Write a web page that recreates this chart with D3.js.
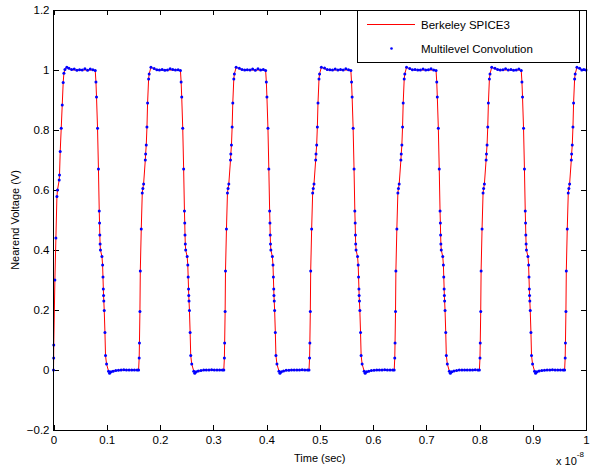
<!DOCTYPE html>
<html>
<head>
<meta charset="utf-8">
<script src="https://cdn.jsdelivr.net/npm/d3@7"></script>
<style>
  body { margin: 0; background: #fff; }
  svg { font-family: "Liberation Sans", Arial, sans-serif; }
</style>
</head>
<body>
<div id="chart"></div>
<script>
// time axis in units of 1e-8 s, one row group per pulse (rise / top / fall / bottom)
const timeVals = [
  0, 0.0003, 0.0005, 0.0026, 0.0045, 0.0064, 0.0075, 0.0107, 0.0113, 0.0126, 0.0145, 0.0164, 0.0182, 0.0195, 0.0215, 0.025,
  0.029, 0.034, 0.039, 0.044, 0.049, 0.054, 0.059, 0.064, 0.069, 0.074, 0.0784,
  0.0797, 0.0808, 0.0827, 0.0844, 0.0859, 0.0865, 0.087, 0.0875, 0.0882, 0.091, 0.0922, 0.0929, 0.0936, 0.094, 0.0945, 0.0953, 0.0966, 0.0977, 0.0996, 0.1034, 0.1053, 0.108,
  0.112, 0.117, 0.122, 0.127, 0.132, 0.137, 0.142, 0.147, 0.152, 0.157,
  // pulse 2
  0.1598, 0.1609, 0.1614, 0.1623, 0.163, 0.1648, 0.1667, 0.1678, 0.1692, 0.1724, 0.173, 0.1742, 0.1755, 0.1767, 0.1786, 0.1797, 0.183,
  0.189, 0.194, 0.199, 0.204, 0.209, 0.214, 0.219, 0.224, 0.229, 0.234, 0.2384,
  0.2397, 0.2408, 0.2427, 0.2444, 0.2459, 0.2465, 0.247, 0.2475, 0.2482, 0.251, 0.2522, 0.2529, 0.2536, 0.254, 0.2545, 0.2553, 0.2566, 0.2577, 0.2596, 0.2634, 0.2653, 0.268,
  0.272, 0.277, 0.282, 0.287, 0.292, 0.297, 0.302, 0.307, 0.312, 0.317,
  // pulse 3
  0.3198, 0.3209, 0.3214, 0.3223, 0.323, 0.3248, 0.3267, 0.3278, 0.3292, 0.3324, 0.333, 0.3342, 0.3355, 0.3367, 0.3386, 0.3397, 0.343,
  0.349, 0.354, 0.359, 0.364, 0.369, 0.374, 0.379, 0.384, 0.389, 0.394, 0.3984,
  0.3997, 0.4008, 0.4027, 0.4044, 0.4059, 0.4065, 0.407, 0.4075, 0.4082, 0.411, 0.4122, 0.4129, 0.4136, 0.414, 0.4145, 0.4153, 0.4166, 0.4177, 0.4196, 0.4234, 0.4253, 0.428,
  0.432, 0.437, 0.442, 0.447, 0.452, 0.457, 0.462, 0.467, 0.472, 0.477,
  // pulse 4
  0.4798, 0.4809, 0.4814, 0.4823, 0.483, 0.4848, 0.4867, 0.4878, 0.4892, 0.4924, 0.493, 0.4942, 0.4955, 0.4967, 0.4986, 0.4997, 0.503,
  0.509, 0.514, 0.519, 0.524, 0.529, 0.534, 0.539, 0.544, 0.549, 0.554, 0.5584,
  0.5597, 0.5608, 0.5627, 0.5644, 0.5659, 0.5665, 0.567, 0.5675, 0.5682, 0.571, 0.5722, 0.5729, 0.5736, 0.574, 0.5745, 0.5753, 0.5766, 0.5777, 0.5796, 0.5834, 0.5853, 0.588,
  0.592, 0.597, 0.602, 0.607, 0.612, 0.617, 0.622, 0.627, 0.632, 0.637,
  // pulse 5
  0.6398, 0.6409, 0.6414, 0.6423, 0.643, 0.6448, 0.6467, 0.6478, 0.6492, 0.6524, 0.653, 0.6542, 0.6555, 0.6567, 0.6586, 0.6597, 0.663,
  0.669, 0.674, 0.679, 0.684, 0.689, 0.694, 0.699, 0.704, 0.709, 0.714, 0.7184,
  0.7197, 0.7208, 0.7227, 0.7244, 0.7259, 0.7265, 0.727, 0.7275, 0.7282, 0.731, 0.7322, 0.7329, 0.7336, 0.734, 0.7345, 0.7353, 0.7366, 0.7377, 0.7396, 0.7434, 0.7453, 0.748,
  0.752, 0.757, 0.762, 0.767, 0.772, 0.777, 0.782, 0.787, 0.792, 0.797,
  // pulse 6
  0.7998, 0.8009, 0.8014, 0.8023, 0.803, 0.8048, 0.8067, 0.8078, 0.8092, 0.8124, 0.813, 0.8142, 0.8155, 0.8167, 0.8186, 0.8197, 0.823,
  0.829, 0.834, 0.839, 0.844, 0.849, 0.854, 0.859, 0.864, 0.869, 0.874, 0.8784,
  0.8797, 0.8808, 0.8827, 0.8844, 0.8859, 0.8865, 0.887, 0.8875, 0.8882, 0.891, 0.8922, 0.8929, 0.8936, 0.894, 0.8945, 0.8953, 0.8966, 0.8977, 0.8996, 0.9034, 0.9053, 0.908,
  0.912, 0.917, 0.922, 0.927, 0.932, 0.937, 0.942, 0.947, 0.952, 0.957,
  // pulse 7
  0.9598, 0.9609, 0.9614, 0.9623, 0.963, 0.9648, 0.9667, 0.9678, 0.9692, 0.9724, 0.973, 0.9742, 0.9755, 0.9767, 0.9786, 0.9797, 0.983,
  0.988, 0.992, 0.996, 1.0
];

// Berkeley SPICE3 nearend voltage (V)
const spiceVals = [
  0, 0.04, 0.083, 0.30, 0.44, 0.578, 0.60, 0.633, 0.65, 0.728, 0.806, 0.883, 0.958, 0.989, 1.002, 1.009,
  1.004, 1.001, 1, 1, 1, 1, 1, 1, 1, 1, 0.998,
  0.96, 0.91, 0.806, 0.67, 0.53, 0.49, 0.45, 0.42, 0.40, 0.378, 0.35, 0.31, 0.27, 0.248, 0.23, 0.198, 0.125, 0.048, 0.02, -0.004, -0.011, -0.006,
  -0.003, -0.002, -0.001, 0, 0, 0, 0, 0, 0, 0,
  0, 0.04, 0.09, 0.195, 0.33, 0.47, 0.59, 0.605, 0.62, 0.70, 0.72, 0.75, 0.81, 0.89, 0.97, 0.987, 1.009,
  1.004, 1.001, 1, 1, 1, 1, 1, 1, 1, 1, 0.998,
  0.96, 0.91, 0.806, 0.67, 0.53, 0.49, 0.45, 0.42, 0.40, 0.378, 0.35, 0.31, 0.27, 0.248, 0.23, 0.198, 0.125, 0.048, 0.02, -0.004, -0.011, -0.006,
  -0.003, -0.002, -0.001, 0, 0, 0, 0, 0, 0, 0,
  0, 0.04, 0.09, 0.195, 0.33, 0.47, 0.59, 0.605, 0.62, 0.70, 0.72, 0.75, 0.81, 0.89, 0.97, 0.987, 1.009,
  1.004, 1.001, 1, 1, 1, 1, 1, 1, 1, 1, 0.998,
  0.96, 0.91, 0.806, 0.67, 0.53, 0.49, 0.45, 0.42, 0.40, 0.378, 0.35, 0.31, 0.27, 0.248, 0.23, 0.198, 0.125, 0.048, 0.02, -0.004, -0.011, -0.006,
  -0.003, -0.002, -0.001, 0, 0, 0, 0, 0, 0, 0,
  0, 0.04, 0.09, 0.195, 0.33, 0.47, 0.59, 0.605, 0.62, 0.70, 0.72, 0.75, 0.81, 0.89, 0.97, 0.987, 1.009,
  1.004, 1.001, 1, 1, 1, 1, 1, 1, 1, 1, 0.998,
  0.96, 0.91, 0.806, 0.67, 0.53, 0.49, 0.45, 0.42, 0.40, 0.378, 0.35, 0.31, 0.27, 0.248, 0.23, 0.198, 0.125, 0.048, 0.02, -0.004, -0.011, -0.006,
  -0.003, -0.002, -0.001, 0, 0, 0, 0, 0, 0, 0,
  0, 0.04, 0.09, 0.195, 0.33, 0.47, 0.59, 0.605, 0.62, 0.70, 0.72, 0.75, 0.81, 0.89, 0.97, 0.987, 1.009,
  1.004, 1.001, 1, 1, 1, 1, 1, 1, 1, 1, 0.998,
  0.96, 0.91, 0.806, 0.67, 0.53, 0.49, 0.45, 0.42, 0.40, 0.378, 0.35, 0.31, 0.27, 0.248, 0.23, 0.198, 0.125, 0.048, 0.02, -0.004, -0.011, -0.006,
  -0.003, -0.002, -0.001, 0, 0, 0, 0, 0, 0, 0,
  0, 0.04, 0.09, 0.195, 0.33, 0.47, 0.59, 0.605, 0.62, 0.70, 0.72, 0.75, 0.81, 0.89, 0.97, 0.987, 1.009,
  1.004, 1.001, 1, 1, 1, 1, 1, 1, 1, 1, 0.998,
  0.96, 0.91, 0.806, 0.67, 0.53, 0.49, 0.45, 0.42, 0.40, 0.378, 0.35, 0.31, 0.27, 0.248, 0.23, 0.198, 0.125, 0.048, 0.02, -0.004, -0.011, -0.006,
  -0.003, -0.002, -0.001, 0, 0, 0, 0, 0, 0, 0,
  0, 0.04, 0.09, 0.195, 0.33, 0.47, 0.59, 0.605, 0.62, 0.70, 0.72, 0.75, 0.81, 0.89, 0.97, 0.987, 1.009,
  1.004, 1.001, 1, 1
];

// Multilevel Convolution samples (V), same time points
const convVals = [
  0, 0.04, 0.083, 0.30, 0.44, 0.578, 0.60, 0.633, 0.65, 0.728, 0.806, 0.883, 0.958, 0.989, 1.002, 1.009,
  1.006, 1.002, 1.003, 0.999, 1.001, 1, 1.004, 0.999, 1.003, 1.001, 0.998,
  0.96, 0.91, 0.806, 0.67, 0.53, 0.49, 0.45, 0.42, 0.40, 0.378, 0.35, 0.31, 0.27, 0.248, 0.23, 0.198, 0.125, 0.048, 0.02, -0.004, -0.011, -0.006,
  -0.004, -0.002, -0.001, 0, 0.001, 0, 0, 0, 0, 0,
  0, 0.04, 0.09, 0.195, 0.33, 0.47, 0.59, 0.605, 0.62, 0.70, 0.72, 0.75, 0.81, 0.89, 0.97, 0.987, 1.009,
  1.005, 1.001, 1.0, 1.002, 0.999, 1.0, 1.004, 1.002, 1.0, 1.001, 0.998,
  0.96, 0.91, 0.806, 0.67, 0.53, 0.49, 0.45, 0.42, 0.40, 0.378, 0.35, 0.31, 0.27, 0.248, 0.23, 0.198, 0.125, 0.048, 0.02, -0.004, -0.011, -0.006,
  -0.003, -0.002, 0, 0, 0, 0.001, 0, 0, 0, 0,
  0, 0.04, 0.09, 0.195, 0.33, 0.47, 0.59, 0.605, 0.62, 0.70, 0.72, 0.75, 0.81, 0.89, 0.97, 0.987, 1.009,
  1.006, 1.002, 1.0, 1.001, 1.0, 1.003, 0.999, 1.004, 1.0, 1.002, 0.998,
  0.96, 0.91, 0.806, 0.67, 0.53, 0.49, 0.45, 0.42, 0.40, 0.378, 0.35, 0.31, 0.27, 0.248, 0.23, 0.198, 0.125, 0.048, 0.02, -0.004, -0.011, -0.006,
  -0.003, -0.001, -0.001, 0, 0, 0, 0, 0.001, 0, 0,
  0, 0.04, 0.09, 0.195, 0.33, 0.47, 0.59, 0.605, 0.62, 0.70, 0.72, 0.75, 0.81, 0.89, 0.97, 0.987, 1.009,
  1.007, 1.002, 1.001, 1.0, 1.003, 1.0, 1.002, 1.0, 1.004, 1.001, 0.998,
  0.96, 0.91, 0.806, 0.67, 0.53, 0.49, 0.45, 0.42, 0.40, 0.378, 0.35, 0.31, 0.27, 0.248, 0.23, 0.198, 0.125, 0.048, 0.02, -0.004, -0.011, -0.006,
  -0.004, -0.002, -0.001, 0, 0, 0, 0.001, 0, 0, 0,
  0, 0.04, 0.09, 0.195, 0.33, 0.47, 0.59, 0.605, 0.62, 0.70, 0.72, 0.75, 0.81, 0.89, 0.97, 0.987, 1.009,
  1.005, 1.001, 1.002, 1.0, 1.0, 1.003, 1.0, 1.001, 1.004, 1.0, 0.998,
  0.96, 0.91, 0.806, 0.67, 0.53, 0.49, 0.45, 0.42, 0.40, 0.378, 0.35, 0.31, 0.27, 0.248, 0.23, 0.198, 0.125, 0.048, 0.02, -0.004, -0.011, -0.006,
  -0.003, -0.002, 0, 0, 0, 0, 0, 0, 0.001, 0,
  0, 0.04, 0.09, 0.195, 0.33, 0.47, 0.59, 0.605, 0.62, 0.70, 0.72, 0.75, 0.81, 0.89, 0.97, 0.987, 1.009,
  1.006, 1.002, 1.0, 1.001, 1.004, 1.0, 1.002, 0.999, 1.0, 1.003, 0.998,
  0.96, 0.91, 0.806, 0.67, 0.53, 0.49, 0.45, 0.42, 0.40, 0.378, 0.35, 0.31, 0.27, 0.248, 0.23, 0.198, 0.125, 0.048, 0.02, -0.004, -0.011, -0.006,
  -0.003, -0.002, -0.001, 0, 0, 0.001, 0, 0, 0, 0,
  0, 0.04, 0.09, 0.195, 0.33, 0.47, 0.59, 0.605, 0.62, 0.70, 0.72, 0.75, 0.81, 0.89, 0.97, 0.987, 1.009,
  1.006, 1.0, 1.002, 1.0
];

const xTicks = [0, 0.1, 0.2, 0.3, 0.4, 0.5, 0.6, 0.7, 0.8, 0.9, 1];
const yTicks = [-0.2, 0, 0.2, 0.4, 0.6, 0.8, 1, 1.2];
const seriesNames = ["Berkeley SPICE3", "Multilevel Convolution"];

const width = 595;
const height = 468;
const margin = {left: 53.5, right: 9, top: 10, bottom: 38};

const svg = d3.select("#chart")
  .append("svg")
  .attr("width", width)
  .attr("height", height);

svg.append("rect")
  .attr("width", width)
  .attr("height", height)
  .attr("fill", "#fff");

const x = d3.scaleLinear()
  .domain([0, 1])
  .range([margin.left, width - margin.right]);

const y = d3.scaleLinear()
  .domain([-0.2, 1.2])
  .range([height - margin.bottom, margin.top]);

const points = timeVals.map((t, i) => ({t: t, spice: spiceVals[i], conv: convVals[i]}));

// axes, ticks point inward on all four sides
const fmt = d => d3.format("~g")(d);

const xAxis = svg.append("g")
  .attr("transform", `translate(0,${y(-0.2)})`)
  .call(d3.axisBottom(x).tickValues(xTicks).tickFormat(fmt).tickSizeInner(-5).tickSizeOuter(0).tickPadding(6));

const yAxis = svg.append("g")
  .attr("transform", `translate(${x(0)},0)`)
  .call(d3.axisLeft(y).tickValues(yTicks).tickFormat(fmt).tickSizeInner(-5).tickSizeOuter(0).tickPadding(4));

const topAxis = svg.append("g")
  .attr("transform", `translate(0,${y(1.2)})`)
  .call(d3.axisTop(x).tickValues(xTicks).tickFormat("").tickSizeInner(-5).tickSizeOuter(0));

const rightAxis = svg.append("g")
  .attr("transform", `translate(${x(1)},0)`)
  .call(d3.axisRight(y).tickValues(yTicks).tickFormat("").tickSizeInner(-5).tickSizeOuter(0));

[xAxis, yAxis, topAxis, rightAxis].forEach(g => {
  g.select(".domain").remove();
  g.selectAll("line").attr("stroke", "#000").attr("shape-rendering", "crispEdges");
  g.selectAll("text").attr("fill", "#000").attr("font-size", "11.5px")
    .attr("font-family", "'Liberation Sans', Arial, sans-serif");
});

// red SPICE3 trace
const line = d3.line()
  .x(d => x(d.t))
  .y(d => y(d.spice));

svg.append("path")
  .datum(points)
  .attr("fill", "none")
  .attr("stroke", "#ff0000")
  .attr("stroke-width", 1)
  .attr("d", line);

// blue convolution samples
svg.selectAll(".dot")
  .data(points)
  .enter()
  .append("circle")
    .attr("class", "dot")
    .attr("cx", d => x(d.t))
    .attr("cy", d => y(d.conv))
    .attr("r", 1.5)
    .attr("fill", "#0000ff");

// plot box
svg.append("rect")
  .attr("x", x(0))
  .attr("y", y(1.2))
  .attr("width", x(1) - x(0))
  .attr("height", y(-0.2) - y(1.2))
  .attr("fill", "none")
  .attr("stroke", "#000")
  .attr("stroke-width", 1)
  .attr("shape-rendering", "crispEdges");

// axis titles
svg.append("text")
  .attr("x", (x(0) + x(1)) / 2)
  .attr("y", 462)
  .attr("text-anchor", "middle")
  .attr("font-size", "11px")
  .text("Time (sec)");

svg.append("text")
  .attr("transform", `translate(19,${(y(-0.2) + y(1.2)) / 2}) rotate(-90)`)
  .attr("text-anchor", "middle")
  .attr("font-size", "11px")
  .text("Nearend Voltage (V)");

// exponent label
const expo = svg.append("text")
  .attr("x", 556)
  .attr("y", 465)
  .attr("font-size", "11px");
expo.append("tspan").text("x 10");
expo.append("tspan").attr("dy", -8).attr("font-size", "8px").text("-8");

// legend
const legend = svg.append("g");
legend.append("rect")
  .attr("x", 357)
  .attr("y", y(1.2))
  .attr("width", 222)
  .attr("height", 52)
  .attr("fill", "#fff")
  .attr("stroke", "#000")
  .attr("shape-rendering", "crispEdges");

legend.append("line")
  .attr("x1", 367).attr("x2", 415)
  .attr("y1", 24.5).attr("y2", 24.5)
  .attr("stroke", "#ff0000");

legend.append("circle")
  .attr("cx", 391.5).attr("cy", 48.5)
  .attr("r", 1.3)
  .attr("fill", "#0000ff");

legend.selectAll(".legend-label")
  .data(seriesNames)
  .enter()
  .append("text")
    .attr("class", "legend-label")
    .attr("x", 421)
    .attr("y", (d, i) => 28.5 + i * 24)
    .attr("font-size", "11.5px")
    .text(d => d);
</script>
</body>
</html>
